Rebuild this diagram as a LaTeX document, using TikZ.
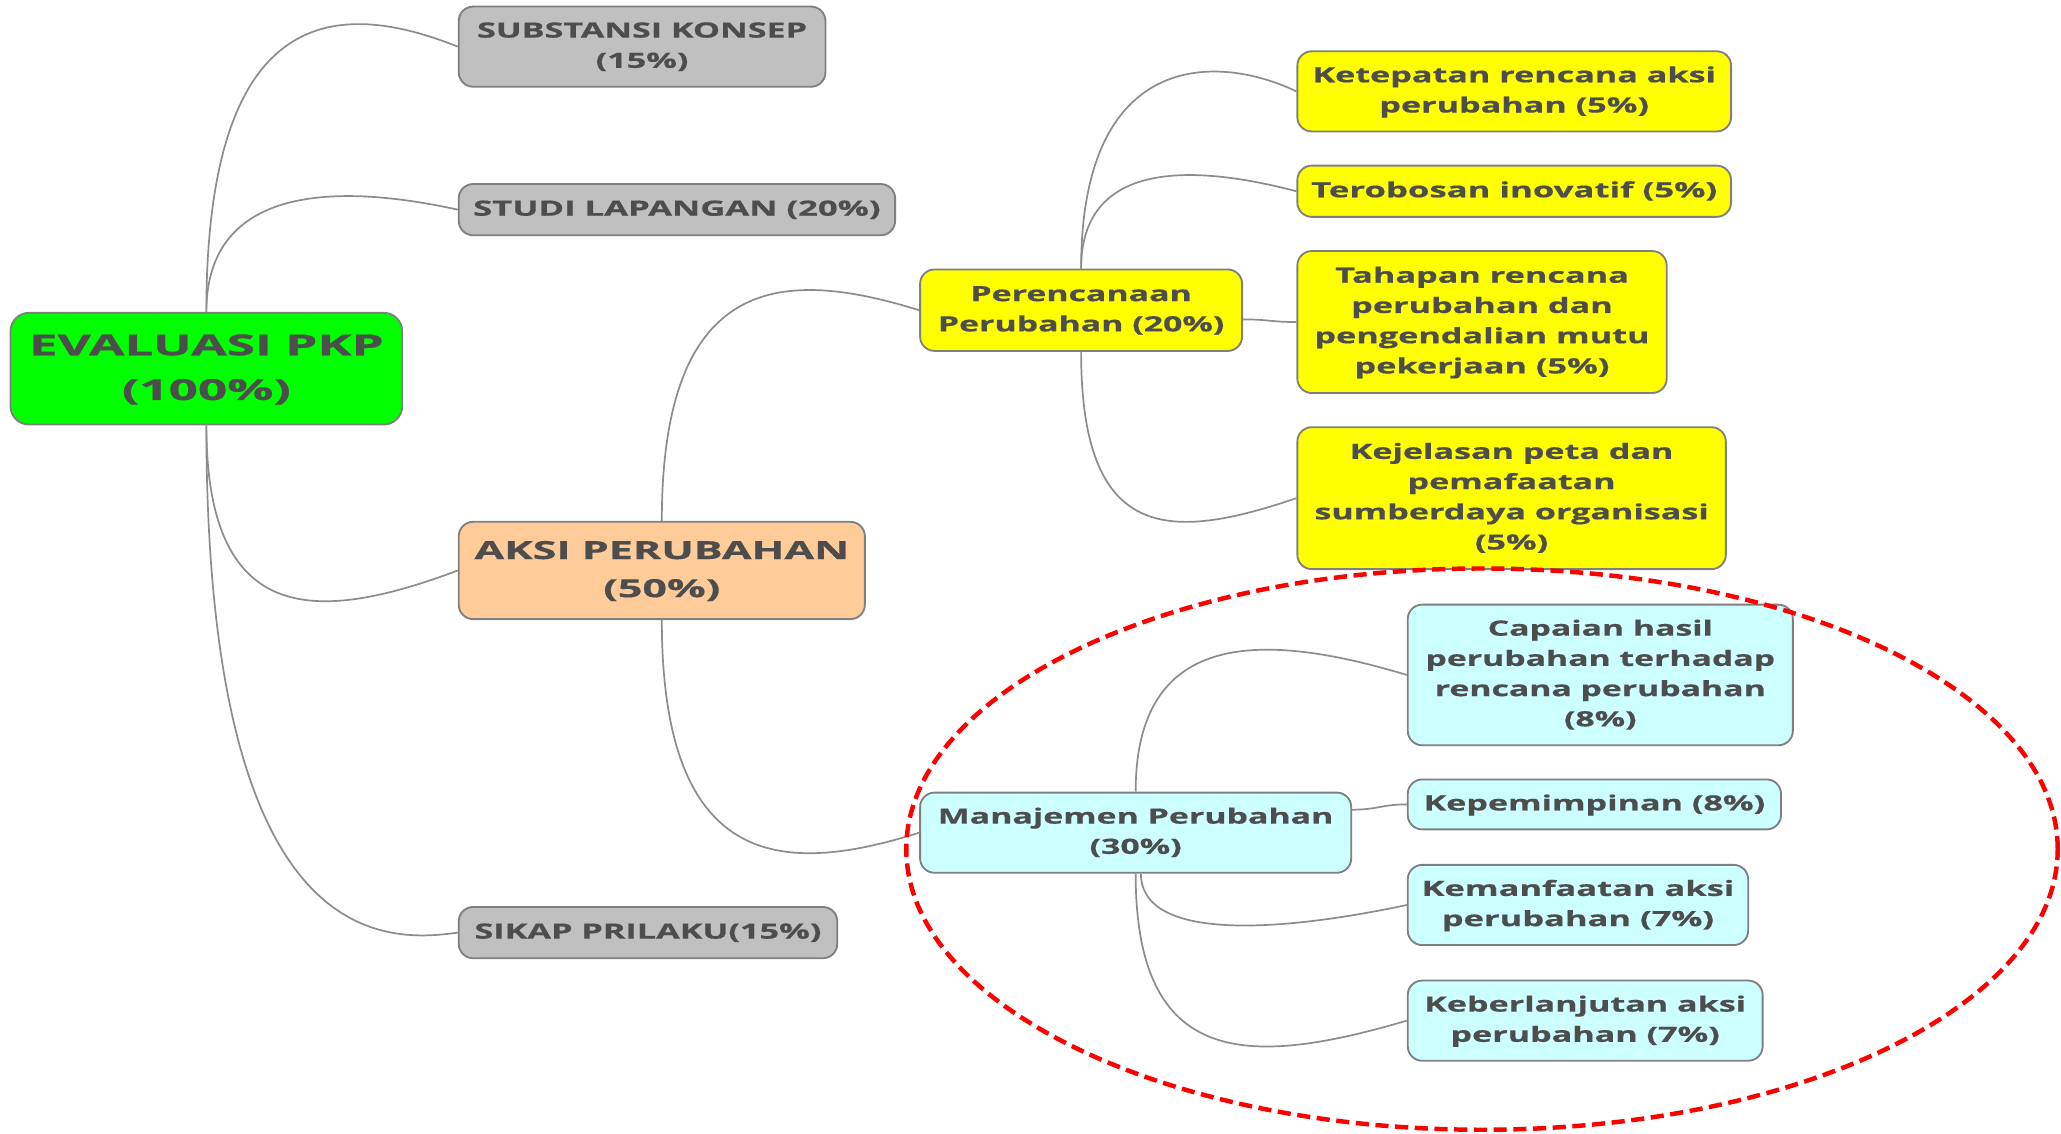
\documentclass[tikz,border=0pt]{standalone}
\usepackage{fontspec}
\setmainfont{Open Sans}[BoldFeatures={FakeBold=0.5}]
\usepackage{graphicx}
\definecolor{txt}{HTML}{4D4D4D}
\definecolor{bord}{HTML}{7F7F7F}
\definecolor{conncol}{HTML}{8C8C8C}
\definecolor{rootfill}{HTML}{00FF00}
\definecolor{grayfill}{HTML}{C0C0C0}
\definecolor{orangefill}{HTML}{FFCC99}
\definecolor{yellowfill}{HTML}{FFFF00}
\definecolor{cyanfill}{HTML}{CCFFFF}
\newcommand\fsN{\fontsize{16}{23}\selectfont\bfseries}
\newcommand\fsA{\fontsize{19}{29}\selectfont\bfseries}
\newcommand\fsR{\fontsize{22}{34}\selectfont\bfseries}
\newcommand\fitt[3]{\setbox0=\hbox{#1\begin{tabular}{@{}c@{}}#3\end{tabular}}\edef\fitw{\the\wd0}\pgfmathsetmacro\fitsx{#2/\fitw}\scalebox{\fitsx}[1]{\box0}}
\tikzset{
  box/.style={draw=bord, line width=1.4pt, rounded corners=11pt, inner sep=0pt, text=txt},
  mm/.style 2 args={minimum width=#1pt, minimum height=#2pt},
  conn/.style={draw=conncol, line width=1.3pt},
  ring/.style={draw=red, line width=3.4pt, dash pattern=on 10pt off 5pt}
}
\begin{document}
\begin{tikzpicture}[x=1pt,y=-1pt]
\useasboundingbox (0,0) rectangle (1568,862);
% level 0
\node[box, fill=rootfill, mm={298}{85}, rounded corners=14pt] (root) at (157,280.5) {\fitt\fsR{270}{EVALUASI PKP\\(100\%)}};
% level 1
\node[box, fill=grayfill, mm={279}{61}] (subst) at (488.5,35.5) {\fitt\fsN{251}{SUBSTANSI KONSEP\\(15\%)}};
\node[box, fill=grayfill, mm={332}{39}] (studi) at (515,159.5) {\fitt\fsN{310}{STUDI LAPANGAN (20\%)}};
\node[box, fill=orangefill, mm={309}{74}] (aksi) at (503.5,434) {\fitt\fsA{285}{AKSI PERUBAHAN\\(50\%)}};
\node[box, fill=grayfill, mm={288}{39}] (sikap) at (493,709.5) {\fitt\fsN{264}{SIKAP PRILAKU(15\%)}};
% level 2
\node[box, fill=yellowfill, mm={245}{62}] (peren) at (822.5,236) {\fitt\fsN{218}{Perencanaan\\Perubahan (20\%)}};
\node[box, fill=cyanfill, mm={328}{61}] (manaj) at (864,633.5) {\fitt\fsN{301}{Manajemen Perubahan\\(30\%)}};
% level 3 yellow
\node[box, fill=yellowfill, mm={330}{61}] (ketep) at (1152,69.5) {\fitt\fsN{307}{Ketepatan rencana aksi\\perubahan (5\%)}};
\node[box, fill=yellowfill, mm={330}{39}] (terob) at (1152,145.5) {\fitt\fsN{309}{Terobosan inovatif (5\%)}};
\node[box, fill=yellowfill, mm={281}{108}] (tahap) at (1127.5,245) {\fitt\fsN{255}{Tahapan rencana\\perubahan dan\\pengendalian mutu\\pekerjaan (5\%)}};
\node[box, fill=yellowfill, mm={326}{108}] (kejel) at (1150,379) {\fitt\fsN{300}{Kejelasan peta dan\\pemafaatan\\sumberdaya organisasi\\(5\%)}};
% level 3 cyan
\node[box, fill=cyanfill, mm={293}{107}] (capai) at (1217.5,513.5) {\fitt\fsN{266}{Capaian hasil\\perubahan terhadap\\rencana perubahan\\(8\%)}};
\node[box, fill=cyanfill, mm={284}{38}] (kepem) at (1213,612) {\fitt\fsN{260}{Kepemimpinan (8\%)}};
\node[box, fill=cyanfill, mm={259}{61}] (keman) at (1200.5,688.5) {\fitt\fsN{238}{Kemanfaatan aksi\\perubahan (7\%)}};
\node[box, fill=cyanfill, mm={270}{61}] (keber) at (1206,776.5) {\fitt\fsN{245}{Keberlanjutan aksi\\perubahan (7\%)}};
% connectors
\draw[conn] (root.north) .. controls +(0,-238) and +(-89,-35.5) .. (subst.west);
\draw[conn] (root.north) .. controls +(0,-98) and +(-89,-19.5) .. (studi.west);
\draw[conn] (root.south) .. controls +(0,152) and +(-109,41) .. (aksi.west);
\draw[conn] (root.south) .. controls +(0,397) and +(-59,8.5) .. (sikap.west);
\draw[conn] (aksi.north) .. controls +(0,-192) and +(-100,-31) .. (peren.west);
\draw[conn] (aksi.south) .. controls +(0,194) and +(-100,31.5) .. (manaj.west);
\draw[conn] (peren.north) .. controls +(0,-165) and +(-62,-29.5) .. (ketep.west);
\draw[conn] (peren.north) .. controls +(0,-81) and +(-82,-21.5) .. (terob.west);
\draw[conn] ([yshift=-7pt]peren.east) .. controls +(20,0) and +(-20,0) .. (tahap.west);
\draw[conn] (peren.south) .. controls +(0,145) and +(-97,33) .. (kejel.west);
\draw[conn] (manaj.north) .. controls +(0,-123) and +(-111,-33.5) .. (capai.west);
\draw[conn] ([yshift=17.5pt]manaj.east) .. controls +(20,0) and +(-20,0) .. (kepem.west);
\draw[conn] ([xshift=4pt]manaj.south) .. controls +(0,48) and +(-111,23.5) .. (keman.west);
\draw[conn] (manaj.south) .. controls +(0,148) and +(-121,35.5) .. (keber.west);
% highlight ring
\draw[ring] (1127.5,646) ellipse [x radius=438pt, y radius=213.5pt];
\end{tikzpicture}
\end{document}
